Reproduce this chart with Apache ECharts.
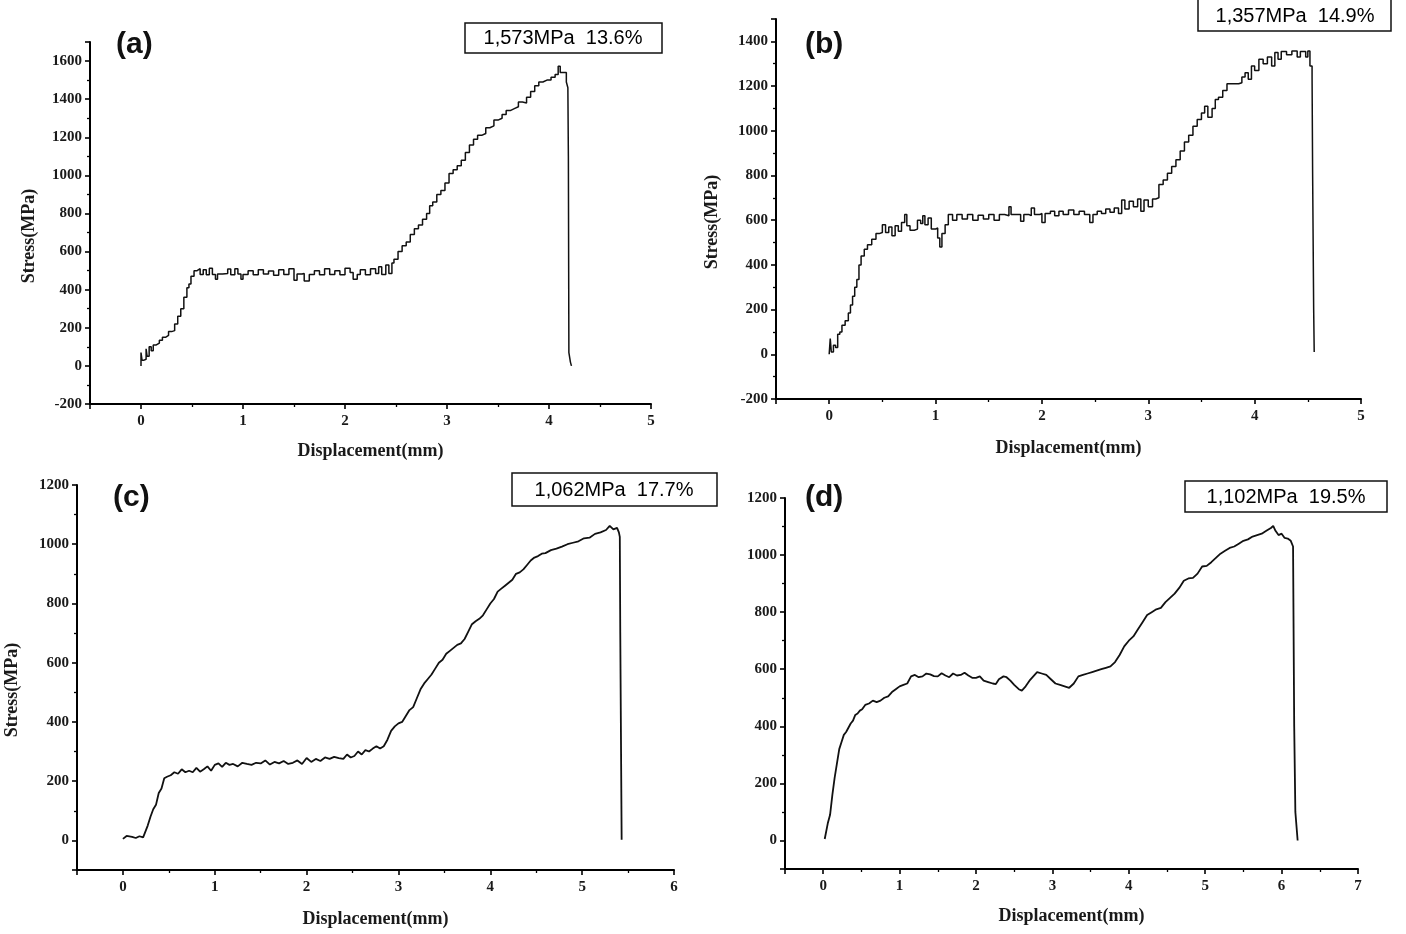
<!DOCTYPE html>
<html>
<head>
<meta charset="utf-8">
<script src="https://cdn.jsdelivr.net/npm/echarts@6/dist/echarts.min.js"></script>
<style>
html,body{margin:0;padding:0;background:#fff;}
#chart{width:1406px;height:934px;}
</style>
</head>
<body>
<div id="chart"></div>
<script>
// ---------- Data ----------
const panelLabels = ['(a)', '(b)', '(c)', '(d)'];
const peakNotes = ['1,573MPa  13.6%', '1,357MPa  14.9%', '1,062MPa  17.7%', '1,102MPa  19.5%'];
const xTitle = 'Displacement(mm)';
const yTitle = 'Stress(MPa)';

// (a)
const dispA = [0,0,0.01,0.03,0.05,0.06,0.08,0.10,0.12,0.15,0.18,0.21,0.24,0.27,0.30,0.33,0.36,0.39,0.42,0.45,0.47,0.49,0.52,
  0.55,0.58,0.61,0.64,0.67,0.70,0.73,0.75,0.80,0.85,0.88,0.92,0.95,0.98,1.00,1.05,1.10,1.15,1.20,1.25,1.30,1.35,1.40,1.45,1.50,1.53,1.58,1.60,1.65,1.70,1.75,1.80,1.85,1.90,1.95,2.00,2.05,2.08,2.12,2.15,2.20,2.25,2.30,2.33,2.36,2.40,2.43,2.46,
  2.48,2.52,2.56,2.60,2.64,2.68,2.72,2.76,2.80,2.83,2.86,2.90,2.94,2.98,3.02,3.06,3.10,3.14,3.18,3.22,3.26,3.30,3.34,3.38,3.42,3.46,3.50,3.54,3.58,3.62,3.66,3.70,3.74,3.78,3.82,3.86,3.90,3.94,3.98,4.02,4.06,4.09,4.11,4.14,4.17,4.185,4.19,4.195,4.21,4.22];
const stressA = [0,70,30,35,90,50,100,80,110,120,135,150,160,180,185,220,260,300,360,410,430,470,500,
  510,480,505,478,512,480,455,482,485,508,478,510,482,455,480,500,478,505,482,498,476,505,480,510,450,482,485,445,480,500,478,510,480,500,478,512,490,455,480,505,478,510,485,520,480,530,485,540,
  560,600,630,650,690,720,740,770,800,840,860,900,920,960,1010,1030,1050,1080,1120,1160,1190,1210,1220,1250,1260,1290,1300,1320,1340,1350,1360,1385,1380,1410,1440,1470,1490,1500,1500,1515,1530,1573,1540,1540,1490,1460,1100,70,20,0];

// (b)
const dispB = [0,0.01,0.02,0.04,0.06,0.08,0.10,0.12,0.15,0.18,0.20,0.22,0.24,0.26,0.28,0.30,0.33,0.36,0.40,0.44,0.47,0.50,0.53,0.56,0.59,0.62,0.65,0.68,0.71,0.73,0.76,0.80,0.83,0.86,0.88,0.90,0.93,0.96,1.00,1.02,1.04,1.06,1.09,
  1.12,1.16,1.20,1.25,1.30,1.35,1.40,1.45,1.50,1.55,1.60,1.65,1.69,1.71,1.76,1.80,1.83,1.88,1.90,1.93,1.98,2.00,2.03,2.08,2.12,2.16,2.20,2.25,2.30,2.35,2.40,2.45,2.48,2.52,2.56,2.60,2.64,2.68,2.72,2.75,2.78,2.82,2.86,2.90,2.93,2.96,3.00,3.04,
  3.07,3.10,3.14,3.18,3.22,3.26,3.30,3.34,3.38,3.42,3.46,3.50,3.53,3.56,3.60,3.63,3.66,3.70,3.74,3.80,3.85,3.88,3.91,3.94,3.97,4.00,4.04,4.08,4.12,4.16,4.19,4.22,4.25,4.30,4.35,4.40,4.43,4.48,4.50,4.52,4.54,4.545,4.555,4.56];
const stressB = [0,70,10,40,30,90,100,130,150,185,220,260,300,335,400,440,470,490,515,540,545,580,545,570,530,575,550,590,625,575,555,560,600,585,620,580,610,560,565,520,480,540,580,
  625,600,625,605,625,600,622,605,625,600,625,620,660,625,625,595,625,620,655,625,630,590,630,640,620,640,625,645,625,640,625,590,625,640,630,650,635,655,630,690,650,685,660,695,640,690,660,695,
  700,760,780,810,840,870,910,950,980,1020,1050,1080,1110,1060,1100,1140,1150,1180,1210,1210,1215,1240,1260,1230,1290,1270,1320,1300,1330,1290,1350,1320,1355,1340,1357,1330,1355,1330,1357,1290,1240,820,200,10];

// (c)
const dispC = [0,0.02,0.04,0.06,0.10,0.14,0.18,0.22,0.24,0.27,0.30,0.33,0.36,0.39,0.42,0.45,0.48,0.52,0.56,0.60,0.64,0.68,0.72,0.76,0.80,0.84,0.88,0.92,0.96,1.00,1.04,1.08,1.12,1.16,1.20,1.25,1.30,1.35,1.40,1.45,1.50,1.55,1.60,1.65,1.70,1.75,1.80,1.85,1.90,1.95,
  2.00,2.05,2.10,2.15,2.20,2.25,2.30,2.35,2.40,2.44,2.48,2.52,2.56,2.60,2.64,2.68,2.72,2.76,2.80,2.84,2.88,2.92,2.96,3.00,3.04,3.08,3.12,3.16,3.20,3.24,3.28,3.32,3.36,3.40,3.44,3.48,3.52,3.56,3.60,3.64,3.68,3.72,3.76,3.80,3.84,3.88,3.92,3.96,
  4.00,4.04,4.08,4.12,4.16,4.20,4.24,4.28,4.32,4.36,4.40,4.44,4.48,4.52,4.56,4.60,4.66,4.72,4.78,4.84,4.90,4.96,5.02,5.08,5.14,5.20,5.26,5.30,5.34,5.38,5.40,5.41,5.415,5.43];
const stressC = [5,0,15,10,12,8,14,10,15,50,80,105,120,160,175,210,215,220,230,225,240,230,235,230,245,232,240,250,235,255,260,248,262,255,258,250,262,258,255,262,260,270,256,265,260,268,258,262,270,258,
  278,265,275,268,280,275,282,278,275,290,280,285,300,290,305,300,310,318,310,318,340,370,385,395,400,420,440,450,480,510,530,545,560,580,600,610,630,640,650,660,665,680,705,730,740,748,760,780,
  800,815,840,850,860,870,880,900,905,915,930,945,955,960,968,970,980,985,992,1000,1005,1010,1020,1022,1035,1040,1048,1062,1050,1055,1040,1025,700,2];

// (d)
const dispD = [0.02,0.03,0.06,0.09,0.12,0.15,0.18,0.21,0.24,0.27,0.30,0.33,0.36,0.39,0.42,0.45,0.48,0.51,0.55,0.60,0.65,0.70,0.75,0.80,0.85,0.90,0.95,1.00,1.05,1.10,1.15,1.20,1.25,1.30,1.35,1.40,1.45,1.50,1.55,1.60,1.65,1.70,1.75,1.80,1.85,1.90,1.95,
  2.00,2.05,2.10,2.16,2.22,2.26,2.30,2.36,2.40,2.45,2.50,2.56,2.60,2.65,2.70,2.75,2.80,2.86,2.92,2.98,3.04,3.10,3.16,3.22,3.28,3.34,3.40,3.46,3.52,3.58,3.64,3.70,3.76,3.82,3.88,3.94,
  4.00,4.06,4.12,4.18,4.24,4.30,4.36,4.42,4.48,4.54,4.60,4.66,4.72,4.78,4.84,4.90,4.96,5.02,5.08,5.14,5.20,5.26,5.32,5.38,5.44,5.50,5.56,5.62,5.68,5.74,5.80,5.86,5.89,5.92,5.96,6.00,6.04,6.08,6.12,6.15,6.165,6.18,6.21];
const stressD = [5,10,60,90,160,220,270,320,345,370,380,395,410,420,440,445,455,460,475,480,490,485,490,500,505,520,530,540,545,550,575,580,572,575,585,582,576,575,586,578,572,585,578,580,588,578,570,
  570,575,560,555,550,548,565,575,572,560,545,530,525,540,560,575,590,585,580,565,550,545,540,535,550,575,580,585,590,595,600,605,610,625,650,680,
  700,715,740,765,790,800,810,815,835,850,865,885,910,918,920,935,960,962,975,990,1005,1015,1025,1030,1040,1050,1055,1065,1070,1075,1085,1095,1102,1085,1070,1075,1060,1058,1050,1030,400,100,0];

// Axis ranges / ticks
const xMax = [5, 5, 6, 7];
const yMin = [-200, -200, -100, -100];
const yMax = [1700, 1500, 1200, 1200];
const yStep = 200;
const xStep = 1;

// ---------- Layout ----------
const grids = [
  {left: 90, top: 42, width: 561, height: 362},
  {left: 776, top: 19, width: 585, height: 380},
  {left: 77, top: 485, width: 597, height: 385},
  {left: 785, top: 498, width: 573, height: 371}
];
const xNameGap = [38, 40, 40, 38];
const series = [[dispA, stressA], [dispB, stressB], [dispC, stressC], [dispD, stressD]];
const stepMode = ['end', 'end', false, false];
const lineWidths = [1.5, 1.5, 1.8, 1.8];

const axisFont = {fontFamily: 'Liberation Serif', fontWeight: 'bold', fontSize: 15, color: '#1a1a1a'};
const axisLine = {show: true, onZero: false, lineStyle: {color: '#000', width: 2}};
const axisTick = {show: true, inside: false, length: 5, lineStyle: {color: '#000', width: 1.6}};
const minorTick = {show: true, splitNumber: 2, length: 3, lineStyle: {color: '#000', width: 1.3}};
const plain = v => String(v);

const option = {
  animation: false,
  backgroundColor: '#fff',
  grid: grids.map(g => Object.assign({containLabel: false, outerBoundsMode: 'none'}, g)),
  xAxis: grids.map((g, i) => ({
    type: 'value', gridIndex: i, min: -0.5, max: xMax[i],
    minInterval: xStep, maxInterval: xStep,
    axisLine, axisTick, minorTick,
    splitLine: {show: false}, minorSplitLine: {show: false},
    axisLabel: Object.assign({margin: 10, showMinLabel: false, formatter: plain}, axisFont),
    name: xTitle, nameLocation: 'middle', nameGap: xNameGap[i],
    nameTextStyle: {fontFamily: 'Liberation Serif', fontWeight: 'bold', fontSize: 18, color: '#1a1a1a'}
  })),
  yAxis: grids.map((g, i) => ({
    type: 'value', gridIndex: i, min: yMin[i], max: yMax[i],
    minInterval: yStep, maxInterval: yStep,
    axisLine, axisTick, minorTick,
    splitLine: {show: false}, minorSplitLine: {show: false},
    axisLabel: Object.assign({margin: 8, formatter: plain,
      showMaxLabel: i >= 2, showMinLabel: yMin[i] === -200}, axisFont)
  })),
  series: series.map((s, i) => ({
    type: 'line', xAxisIndex: i, yAxisIndex: i,
    data: s[0].map((x, k) => [x, s[1][k]]),
    step: stepMode[i], showSymbol: false, symbol: 'none',
    lineStyle: {color: '#111', width: lineWidths[i]}
  })),
  graphic: [
    // panel letters
    {type: 'text', left: 116, top: 30, style: {text: panelLabels[0], font: 'bold 30px "Liberation Sans"', fill: '#111'}},
    {type: 'text', left: 805, top: 30, style: {text: panelLabels[1], font: 'bold 30px "Liberation Sans"', fill: '#111'}},
    {type: 'text', left: 113, top: 483, style: {text: panelLabels[2], font: 'bold 30px "Liberation Sans"', fill: '#111'}},
    {type: 'text', left: 805, top: 483, style: {text: panelLabels[3], font: 'bold 30px "Liberation Sans"', fill: '#111'}},
    // peak boxes
    {type: 'rect', shape: {x: 465, y: 23, width: 197, height: 30}, style: {fill: '#fff', stroke: '#111', lineWidth: 1.5}},
    {type: 'text', x: 563, y: 38, style: {text: peakNotes[0], font: '20px "Liberation Sans"', fill: '#000', textAlign: 'center', textVerticalAlign: 'middle'}},
    {type: 'rect', shape: {x: 1198, y: -2, width: 193, height: 33}, style: {fill: '#fff', stroke: '#111', lineWidth: 1.5}},
    {type: 'text', x: 1295, y: 16, style: {text: peakNotes[1], font: '20px "Liberation Sans"', fill: '#000', textAlign: 'center', textVerticalAlign: 'middle'}},
    {type: 'rect', shape: {x: 512, y: 473, width: 205, height: 33}, style: {fill: '#fff', stroke: '#111', lineWidth: 1.5}},
    {type: 'text', x: 614, y: 490, style: {text: peakNotes[2], font: '20px "Liberation Sans"', fill: '#000', textAlign: 'center', textVerticalAlign: 'middle'}},
    {type: 'rect', shape: {x: 1185, y: 481, width: 202, height: 31}, style: {fill: '#fff', stroke: '#111', lineWidth: 1.5}},
    {type: 'text', x: 1286, y: 497, style: {text: peakNotes[3], font: '20px "Liberation Sans"', fill: '#000', textAlign: 'center', textVerticalAlign: 'middle'}},
    // y titles
    {type: 'text', x: 29, y: 236, rotation: Math.PI / 2, style: {text: yTitle, font: 'bold 18px "Liberation Serif"', fill: '#1a1a1a', textAlign: 'center', textVerticalAlign: 'middle'}},
    {type: 'text', x: 712, y: 222, rotation: Math.PI / 2, style: {text: yTitle, font: 'bold 18px "Liberation Serif"', fill: '#1a1a1a', textAlign: 'center', textVerticalAlign: 'middle'}},
    {type: 'text', x: 12, y: 690, rotation: Math.PI / 2, style: {text: yTitle, font: 'bold 18px "Liberation Serif"', fill: '#1a1a1a', textAlign: 'center', textVerticalAlign: 'middle'}}
  ]
};

const chart = echarts.init(document.getElementById('chart'), null, {renderer: 'canvas'});
chart.setOption(option);
</script>
</body>
</html>
